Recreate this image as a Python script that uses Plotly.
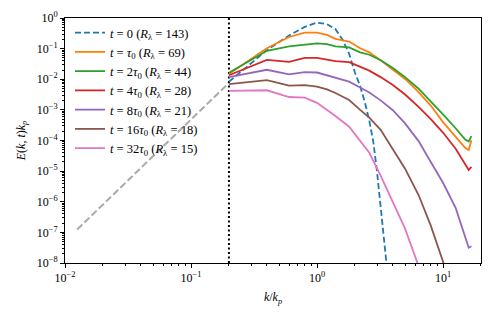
import plotly.graph_objects as go

# ---- data ----
k_grid = [0.2, 0.4, 0.6, 0.8, 1.0, 1.2, 1.4, 1.8, 2.2, 2.6, 3.2, 4.0, 5.0, 6.4, 8.0, 10.0, 12.6, 15.0, 16.0, 16.8]

k_t0 = [0.2, 0.4, 0.6, 0.8, 1.0, 1.2, 1.4, 1.6, 1.8, 2.0, 2.2, 2.4, 2.6, 2.8, 3.0, 3.2, 3.4, 3.6]
logE_t0 = [-2.08, -1.05, -0.57, -0.29, -0.15, -0.20, -0.36, -0.72, -1.17, -1.78, -2.22, -2.76, -3.35, -4.05, -5.05, -6.25, -7.30, -8.20]

logE_1 = [-1.83, -0.99, -0.62, -0.48, -0.48, -0.55, -0.68, -0.77, -0.99, -1.12, -1.38, -1.69, -1.99, -2.42, -2.86, -3.40, -3.88, -4.24, -4.31, -3.99]
logE_2 = [-1.79, -1.07, -0.93, -0.86, -0.83, -0.85, -0.93, -0.96, -1.12, -1.20, -1.38, -1.63, -1.93, -2.31, -2.72, -3.15, -3.60, -3.97, -4.03, -3.86]
logE_4 = [-1.87, -1.37, -1.43, -1.30, -1.30, -1.37, -1.41, -1.44, -1.59, -1.72, -1.93, -2.19, -2.50, -2.90, -3.30, -3.74, -4.27, -4.80, -4.96, -4.86]
logE_8 = [-1.93, -1.69, -1.84, -1.77, -1.78, -1.88, -1.96, -2.08, -2.27, -2.43, -2.69, -3.01, -3.44, -4.02, -4.70, -5.38, -6.20, -7.10, -7.50, -7.45]

k_16 = [0.2, 0.4, 0.6, 0.8, 1.0, 1.2, 1.4, 1.8, 2.2, 2.6, 3.2, 4.0, 5.0, 6.4, 8.0, 10.0, 11.0]
logE_16 = [-2.16, -2.03, -2.21, -2.19, -2.24, -2.33, -2.45, -2.68, -3.00, -3.25, -3.65, -4.30, -4.92, -5.78, -6.78, -7.95, -8.60]

k_32 = [0.2, 0.4, 0.6, 0.8, 1.0, 1.2, 1.4, 1.8, 2.2, 2.6, 3.2, 4.0, 5.0, 6.4]
logE_32 = [-2.38, -2.36, -2.58, -2.60, -2.77, -3.00, -3.20, -3.55, -4.02, -4.40, -5.15, -6.03, -6.88, -8.10]

k_low = [0.0125, 0.2]
E_low = [1.25e-7, 7.6e-3]

k_cut = 0.2
y_limits = [1e-8, 1e0]

labels = [
    "<i>t</i> = 0 (<i>R</i><sub>λ</sub> = 143)",
    "<i>t</i> = <i>τ</i><sub>0</sub> (<i>R</i><sub>λ</sub> = 69)",
    "<i>t</i> = 2<i>τ</i><sub>0</sub> (<i>R</i><sub>λ</sub> = 44)",
    "<i>t</i> = 4<i>τ</i><sub>0</sub> (<i>R</i><sub>λ</sub> = 28)",
    "<i>t</i> = 8<i>τ</i><sub>0</sub> (<i>R</i><sub>λ</sub> = 21)",
    "<i>t</i> = 16<i>τ</i><sub>0</sub> (<i>R</i><sub>λ</sub> = 18)",
    "<i>t</i> = 32<i>τ</i><sub>0</sub> (<i>R</i><sub>λ</sub> = 15)",
]
colors = ["#1f77b4", "#ff7f0e", "#2ca02c", "#d62728", "#9467bd", "#8c564b", "#e377c2"]

x_tickvals = [1e-2, 1e-1, 1e0, 1e1]
x_ticktext = ["10<sup>−2</sup>", "10<sup>−1</sup>", "10<sup>0</sup>", "10<sup>1</sup>"]
y_tickvals = [1e0, 1e-1, 1e-2, 1e-3, 1e-4, 1e-5, 1e-6, 1e-7, 1e-8]
y_ticktext = ["10<sup>0</sup>", "10<sup>−1</sup>", "10<sup>−2</sup>", "10<sup>−3</sup>", "10<sup>−4</sup>",
              "10<sup>−5</sup>", "10<sup>−6</sup>", "10<sup>−7</sup>", "10<sup>−8</sup>"]

series = [
    (k_t0, logE_t0), (k_grid, logE_1), (k_grid, logE_2), (k_grid, logE_4),
    (k_grid, logE_8), (k_16, logE_16), (k_32, logE_32),
]

FONT = "Liberation Serif"

fig = go.Figure()

fig.add_trace(go.Scatter(x=k_low, y=E_low, mode="lines", showlegend=False,
                         line=dict(color="#aaaaaa", width=2, dash="7px,3px")))
fig.add_trace(go.Scatter(x=[k_cut, k_cut], y=y_limits, mode="lines", showlegend=False,
                         line=dict(color="black", width=2, dash="2px,2.5px")))

for i, ((kk, le), lab, col) in enumerate(zip(series, labels, colors)):
    fig.add_trace(go.Scatter(
        x=kk, y=[10 ** v for v in le], mode="lines", name=lab,
        line=dict(color=col, width=1.8, dash="6px,3px" if i == 0 else "solid"),
    ))

axis_common = dict(
    type="log", showgrid=False, zeroline=False, showline=True, mirror=True, automargin=False,
    linecolor="black", linewidth=1, ticks="outside", ticklen=4, tickwidth=1,
    tickcolor="black", tickfont=dict(family=FONT, size=12, color="black"),
    minor=dict(ticks="outside", ticklen=2, tickwidth=0.8, tickcolor="black", dtick="D1", showgrid=False),
)

fig.update_xaxes(**axis_common, range=[-2, 1.3016], tickvals=x_tickvals, ticktext=x_ticktext,
                 title=dict(text="<i>k</i>/<i>k</i><sub><i>p</i></sub>", font=dict(family=FONT, size=12, color="black"), standoff=8))
fig.update_yaxes(**axis_common, range=[-8, 0], tickvals=y_tickvals, ticktext=y_ticktext,
                 title=dict(text="<i>E</i>(<i>k</i>, <i>t</i>)<i>k</i><sub><i>p</i></sub>", font=dict(family=FONT, size=12, color="black"), standoff=8))

fig.update_layout(
    width=498, height=317,
    margin=dict(l=65, r=17, t=18, b=54),
    paper_bgcolor="white", plot_bgcolor="white",
    font=dict(family=FONT, size=12, color="black"),
    legend=dict(x=0.012, y=1.0, xanchor="left", yanchor="top", bgcolor="rgba(255,255,255,0)",
                font=dict(family=FONT, size=12.5, color="black"), tracegroupgap=0, itemwidth=30),
)

fig.write_html("out.html", config={"displayModeBar": False},
               post_script="document.body.style.margin='0';")
